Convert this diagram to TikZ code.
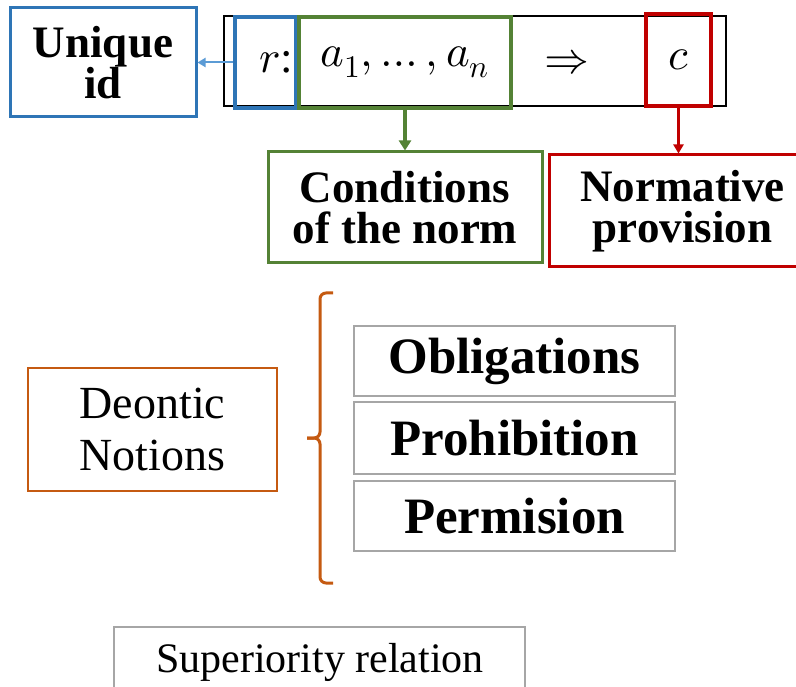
\documentclass[tikz,border=0pt]{standalone}
\usepackage{fontspec}
\usepackage{unicode-math}
\setmainfont{Liberation Serif}
\setmathfont{Latin Modern Math}
\usetikzlibrary{arrows.meta}
\definecolor{cblue}{HTML}{2E75B6}
\definecolor{lblue}{HTML}{5B9BD5}
\definecolor{cgreen}{HTML}{548235}
\definecolor{cred}{HTML}{C00000}
\definecolor{corange}{HTML}{C55A11}
\definecolor{cgray}{HTML}{A6A6A6}
\tikzset{
  x=1pt, y=-1pt,
  box/.style={draw, rectangle, inner sep=0pt, align=center},
  bold45/.style={font=\fontsize{45}{41}\selectfont\bfseries},
  bold51/.style={font=\fontsize{51}{51}\selectfont\bfseries},
  reg46/.style={font=\fontsize{46}{52}\selectfont},
  mth/.style={font=\fontsize{45}{48}\selectfont},
  arr/.style={-{Triangle[width=10pt,length=9pt]}},
}
\begin{document}
\begin{tikzpicture}
\useasboundingbox (0,0) rectangle (796,687);
\clip (0,0) rectangle (796,687);
% formula row
\node[box, line width=1.5pt, minimum width=502, minimum height=90] (outer) at (475,61) {};
\node[box, draw=cblue, line width=4pt, minimum width=61, minimum height=91] (rbox) at (265.5,62.5) {};
\node[mth, inner sep=0pt] (rtxt) at (276,62) {$r$:};
\node[box, draw=cgreen, line width=4pt, minimum width=212, minimum height=91, mth] (abox) at (405,62.5) {$a_1, \ldots, a_n$};
\node[mth, inner sep=0pt] (imp) at (567,62) {$\Rightarrow$};
\node[box, draw=cred, line width=4pt, minimum width=65, minimum height=92, mth] (cbox) at (678.5,60) {$c$};
% label boxes
\node[box, draw=cblue, line width=3pt, minimum width=186, minimum height=109, bold45] (uid) at (103,62.5) {Unique\\id};
\node[box, draw=cgreen, line width=3pt, minimum width=274, minimum height=111, bold45] (cond) at (405,207.5) {Conditions\\of the norm};
\node[box, draw=cred, line width=3pt, minimum width=267, minimum height=112, bold45] (norm) at (682.5,211) {Normative\\provision};
% arrows
\draw[draw=lblue, fill=lblue, line width=2pt, -{Triangle[width=9pt,length=8pt]}] (rbox.west) -- (uid.east);
\draw[draw=cgreen, fill=cgreen, line width=4pt, -{Triangle[width=12pt,length=10pt]}] (abox.south) -- (cond.north);
\draw[arr, draw=cred, fill=cred, line width=3pt] (cbox.south) -- (cbox.south |- norm.north);
% deontic notions
\node[box, draw=corange, line width=2.5pt, minimum width=249, minimum height=123, reg46] (deon) at (152.5,429.5) {Deontic\\Notions};
\draw[draw=corange, line width=3pt, rounded corners=6pt]
  (333,293) -- (320,293) -- (320,438) -- (307,438);
\draw[draw=corange, line width=3pt, rounded corners=6pt]
  (307,438) -- (320,438) -- (320,583) -- (333,583);
\node[box, draw=cgray, line width=2pt, minimum width=321, minimum height=70, bold51] (obl) at (514.5,361) {Obligations};
\node[box, draw=cgray, line width=2pt, minimum width=321, minimum height=72, bold51] (proh) at (514.5,438) {Prohibition};
\node[box, draw=cgray, line width=2pt, minimum width=321, minimum height=70, bold51] (perm) at (514.5,516) {Permision};
% superiority
\node[box, draw=cgray, line width=2pt, minimum width=411, minimum height=76, anchor=north] (sup) at (319.5,626) {};
\node[font=\fontsize{42}{48}\selectfont, inner sep=0pt, anchor=base] (suptxt) at (320,672) {Superiority relation};
\end{tikzpicture}
\end{document}
